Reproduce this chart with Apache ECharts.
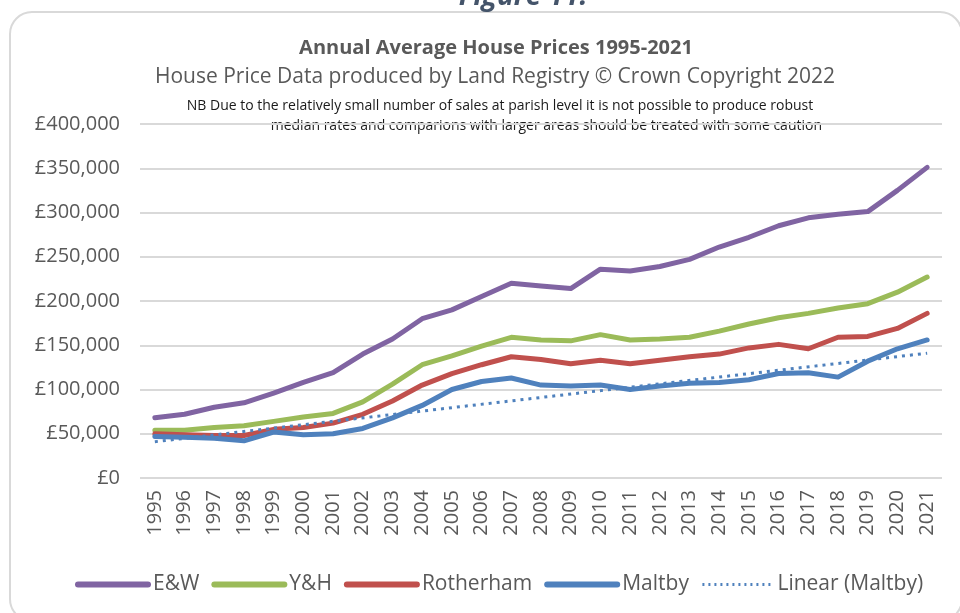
<!DOCTYPE html>
<html>
<head>
<meta charset="utf-8">
<script src="https://cdn.jsdelivr.net/npm/echarts@6/dist/echarts.min.js"></script>
<style>
  html, body { margin: 0; padding: 0; background: #fff; }
  #chart { width: 960px; height: 613px; }
</style>
</head>
<body>
<div id="chart"></div>
<script>
// years on the x axis
var years = ['1995','1996','1997','1998','1999','2000','2001','2002','2003','2004','2005','2006','2007',
  '2008','2009','2010','2011','2012','2013','2014','2015','2016','2017','2018','2019','2020','2021'];

// annual average prices
var ew = [68000,72000,80000,85000,96000,108000,119000,140000,157000,180000,190000,205000,220000,
  217000,214000,236000,234000,239000,247000,261000,272000,285000,294000,298000,301000,325000,351000];
var yh = [54000,54000,57000,59000,64000,69000,73000,86000,106000,128000,138000,149000,159000,
  156000,155000,162000,156000,157000,159000,166000,174000,181000,186000,192000,197000,210000,227000];
var rotherham = [50000,49000,48000,48000,55000,57000,62000,72000,87000,105000,118000,128000,137000,
  134000,129000,133000,129000,133000,137000,140000,147000,151000,146000,159000,160000,169000,186000];
var maltby = [47000,46000,45000,42000,52000,49000,50000,56000,68000,82000,100000,109000,113000,
  105000,104000,105000,100000,104000,107000,108000,111000,118000,119000,114000,132000,146000,156000];
// Excel trendline ends
var maltbyTrend = [['1995', 41000], ['2021', 141000]];

var font = '"Open Sans", sans-serif';
var grey = '#595959';

function money(v) {
  return '£' + String(v).replace(/\B(?=(\d{3})+(?!\d))/g, ',');
}

var chart = echarts.init(document.getElementById('chart'));

var thick = { width: 6, cap: 'round' };

var option = {
  animation: false,
  backgroundColor: '#fff',
  textStyle: { fontFamily: font },
  title: [
    {
      text: 'Annual Average House Prices 1995-2021',
      left: 491, top: 33, textAlign: 'center',
      textStyle: { fontFamily: font, fontSize: 20, fontWeight: 'bold', color: grey }
    },
    {
      text: 'House Price Data produced by Land Registry © Crown Copyright 2022',
      left: 490, top: 62, textAlign: 'center',
      textStyle: { fontFamily: font, fontSize: 21, fontWeight: 'normal', color: grey }
    }
  ],
  graphic: [
    {
      type: 'rect',
      shape: { x: 10, y: 12, width: 952, height: 609, r: 22 },
      style: { fill: 'none', stroke: '#d9d9d9', lineWidth: 2 },
      silent: true
    },
    {
      type: 'text', x: 523, y: 11,
      style: { text: 'Figure 11:', fontFamily: font, fontSize: 28, fontWeight: 'bold', fontStyle: 'italic',
        fill: '#44546a', align: 'center', verticalAlign: 'bottom' }
    },
    {
      type: 'text', x: 500, y: 106,
      style: { text: 'NB Due to the relatively small number of sales at parish level it is not possible to produce robust',
        fontFamily: font, fontSize: 14, fill: '#1a1a1a', align: 'center', verticalAlign: 'middle' }
    },
    {
      type: 'text', x: 822, y: 126,
      style: { text: 'median rates and comparions with larger areas should be treated with some caution',
        fontFamily: font, fontSize: 14, fill: '#1a1a1a', align: 'right', verticalAlign: 'middle' }
    }
  ],
  legend: {
    left: 70,
    top: 569,
    itemWidth: 70,
    itemHeight: 24,
    itemGap: 12,
    itemStyle: { opacity: 0 },
    textStyle: { fontFamily: font, fontSize: 21, color: grey },
    data: [
      { name: 'E&W', lineStyle: thick },
      { name: 'Y&H', lineStyle: thick },
      { name: 'Rotherham', lineStyle: thick },
      { name: 'Maltby', lineStyle: thick },
      { name: 'Linear (Maltby)', lineStyle: { width: 3, type: [2, 4], cap: 'butt' } }
    ]
  },
  grid: { left: 140, right: 18, top: 124, bottom: 135, containLabel: false },
  xAxis: {
    type: 'category',
    data: years,
    boundaryGap: true,
    axisLine: { show: false },
    axisTick: { show: false },
    axisLabel: { rotate: 90, margin: 12, fontFamily: font, fontSize: 20, color: grey }
  },
  yAxis: {
    type: 'value',
    min: 0, max: 400000, interval: 50000,
    axisLine: { show: false },
    axisTick: { show: false },
    splitLine: { lineStyle: { color: '#d9d9d9', width: 2 } },
    axisLabel: { margin: 20, fontFamily: font, fontSize: 20, color: grey, formatter: money }
  },
  series: [
    { name: 'E&W', type: 'line', data: ew, symbol: 'none', color: '#8064a2',
      lineStyle: { width: 5, cap: 'round', join: 'round' } },
    { name: 'Y&H', type: 'line', data: yh, symbol: 'none', color: '#9bbb59',
      lineStyle: { width: 5, cap: 'round', join: 'round' } },
    { name: 'Rotherham', type: 'line', data: rotherham, symbol: 'none', color: '#c0504d',
      lineStyle: { width: 5, cap: 'round', join: 'round' } },
    { name: 'Maltby', type: 'line', data: maltby, symbol: 'none', color: '#4f81bd',
      lineStyle: { width: 5, cap: 'round', join: 'round' } },
    { name: 'Linear (Maltby)', type: 'line', data: maltbyTrend, symbol: 'none', color: '#4f81bd',
      lineStyle: { width: 3, type: [3, 5], cap: 'butt' } }
  ]
};

chart.setOption(option);
</script>
</body>
</html>
